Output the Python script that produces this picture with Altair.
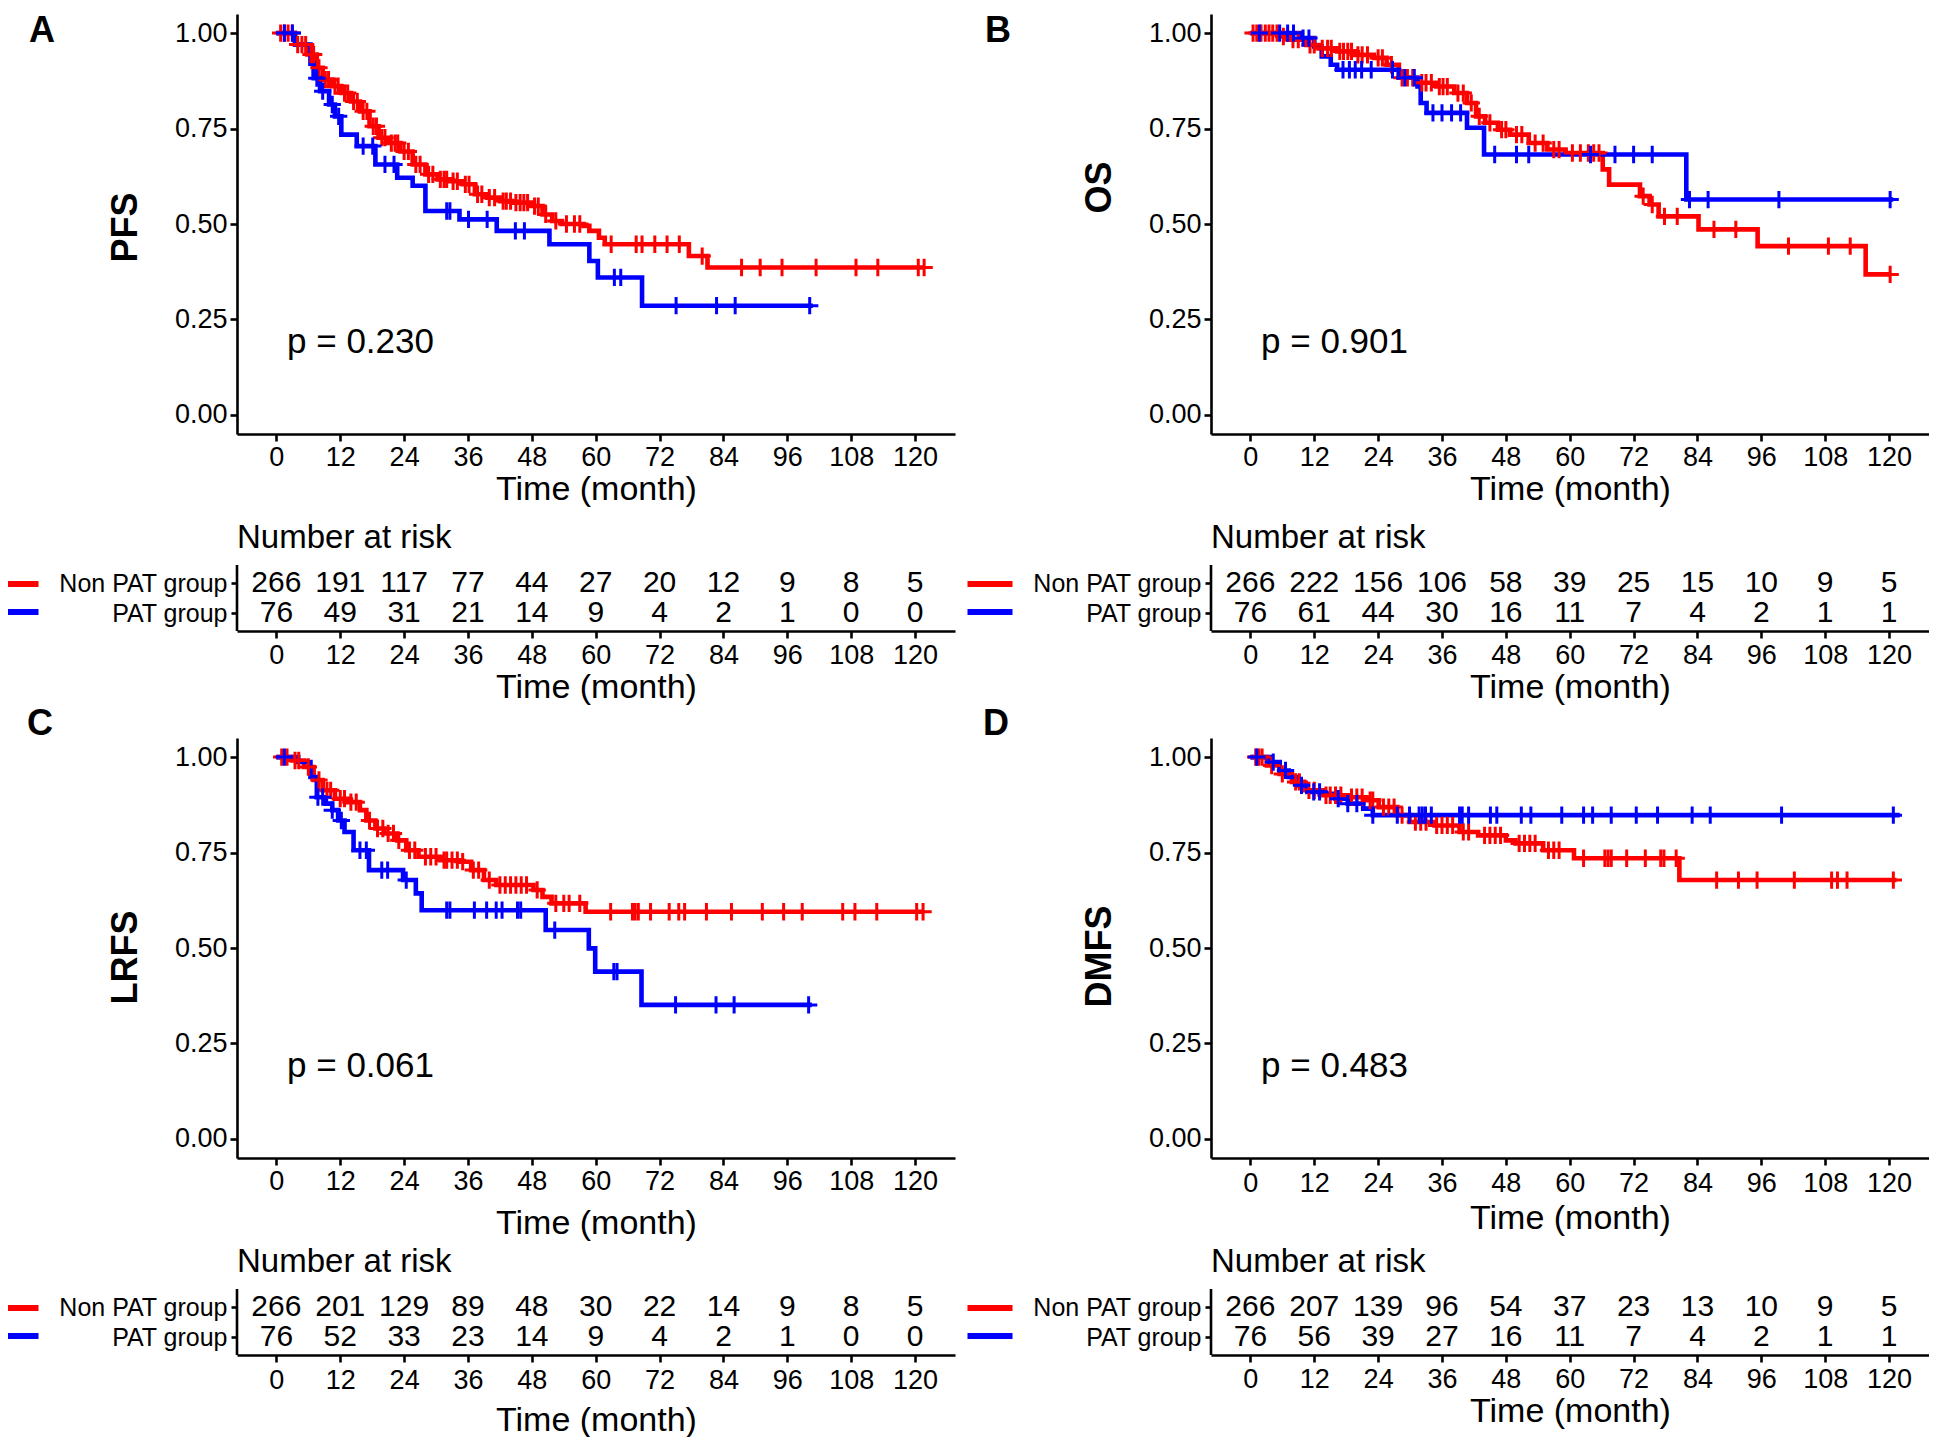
import altair as alt
import numpy as np
import pandas as pd

GROUPS = ["Non PAT group", "PAT group"]
COLORS = ["#FF0000", "#0000FF"]
TIME_BREAKS = [0, 12, 24, 36, 48, 60, 72, 84, 96, 108, 120]
SURV_BREAKS = [0.0, 0.25, 0.5, 0.75, 1.0]

# ---------------- Panel A : PFS ----------------
A_NON_T = [0, 3.5, 5.8, 7.6, 8.7, 10.5, 12.2, 14.0, 15.7, 17.5, 19.2, 21.0, 23.3, 25.6, 28.0, 30.3, 32.6, 35.0,
           37.3, 39.6, 42.0, 44.3, 47.8, 50.0, 51.8, 53.6, 57.7, 58.8, 60.6, 61.7, 77.5, 81.0, 121.7]
A_NON_S = [1.0, 0.97, 0.944, 0.909, 0.878, 0.861, 0.843, 0.821, 0.795, 0.756, 0.726, 0.712, 0.69, 0.656, 0.63,
           0.617, 0.612, 0.604, 0.578, 0.569, 0.56, 0.556, 0.547, 0.525, 0.508, 0.5, 0.495, 0.482, 0.464, 0.447,
           0.416, 0.386, 0.386]
A_NON_C = [0.8, 1.5, 2.2, 3, 4, 4.8, 5.5, 6.5, 7, 8, 9.2, 9.8, 11, 11.6, 12.8, 13.4, 14.5, 15.2, 16.3, 17, 18.2,
           18.8, 19.8, 20.4, 21.6, 22.3, 22.8, 24, 24.8, 26.2, 27, 28.6, 29.4, 30.8, 31.5, 32, 33.2, 34, 35.5, 36.2,
           37.8, 38.6, 40, 41, 42.6, 43.2, 44, 45, 45.8, 46.5, 47.2, 48.5, 49.2, 50.6, 52.5, 54.5, 56, 57, 62.9,
           67.6, 68.7, 71.1, 73.4, 75.7, 80.0, 87.4, 90.9, 95, 101.4, 108.9, 113, 120.6, 121.7]
A_PAT_T = [0, 3.5, 6.4, 7.0, 8.2, 9.9, 11.0, 12.2, 15.1, 18.6, 22.7, 25.6, 28.0, 34.4, 41.4, 51.3, 58.8, 60.4,
           68.7, 100.8]
A_PAT_S = [1.0, 0.97, 0.92, 0.882, 0.848, 0.813, 0.782, 0.734, 0.704, 0.656, 0.621, 0.6, 0.534, 0.512, 0.482,
           0.447, 0.403, 0.36, 0.286, 0.286]
A_PAT_C = [1.5, 3, 7.6, 8.7, 10.5, 11.7, 16.3, 18.1, 20.4, 22.1, 32.0, 32.6, 36.1, 39.6, 44.9, 46.6, 63.5, 64.7,
           75.1, 82.7, 86.2, 100.2]
A_RISK_NON = [266, 191, 117, 77, 44, 27, 20, 12, 9, 8, 5]
A_RISK_PAT = [76, 49, 31, 21, 14, 9, 4, 2, 1, 0, 0]

# ---------------- Panel B : OS ----------------
B_NON_T = [0, 5.8, 7.0, 10.5, 12.8, 16.3, 19.7, 23.2, 25.6, 27.9, 31.4, 34.9, 38.3, 40.7, 42.4, 44.1, 46.5, 48.8,
           52.3, 55.8, 59.2, 66.2, 67.4, 73.2, 75.0, 76.7, 84.2, 95.3, 115.6, 120.2]
B_NON_S = [1.0, 0.991, 0.983, 0.969, 0.96, 0.952, 0.943, 0.935, 0.917, 0.883, 0.87, 0.86, 0.843, 0.817, 0.782,
           0.765, 0.747, 0.734, 0.712, 0.695, 0.686, 0.643, 0.603, 0.573, 0.551, 0.52, 0.486, 0.442, 0.368, 0.368]
B_NON_C = [0.5, 1.2, 2, 2.8, 3.5, 4.2, 5, 6.2, 8, 9, 11.2, 12, 13.5, 14.5, 15.2, 16.8, 17.5, 18.3, 19, 20.2, 21,
           22, 24, 24.8, 26.5, 28.5, 29.5, 30.5, 32.2, 33, 34, 35.5, 36.2, 37, 39, 40, 41.5, 43, 45, 47.2, 48, 50,
           51, 53.5, 55, 57, 58, 60.5, 62, 63.5, 64.5, 65.5, 73.8, 75.5, 77.8, 80.2, 87.1, 91.2, 101.1, 108.6,
           112.7, 120.2]
B_PAT_T = [0, 9.3, 12.0, 13.4, 15.1, 16.3, 27.9, 31.4, 32.0, 33.1, 40.7, 43.9, 81.9, 120.8]
B_PAT_S = [1.0, 0.987, 0.965, 0.939, 0.917, 0.904, 0.883, 0.86, 0.817, 0.791, 0.752, 0.682, 0.564, 0.564]
B_PAT_C = [1.7, 5.5, 7.0, 8.1, 9.9, 11.0, 17.4, 18.6, 19.7, 20.9, 22.7, 26.7, 29.0, 30.8, 34.3, 36.0, 37.8, 39.5,
           45.9, 50.0, 52.3, 63.9, 68.5, 72.0, 75.5, 82.5, 86.0, 99.3, 120.2]
B_RISK_NON = [266, 222, 156, 106, 58, 39, 25, 15, 10, 9, 5]
B_RISK_PAT = [76, 61, 44, 30, 16, 11, 7, 4, 2, 1, 1]

# ---------------- Panel C : LRFS ----------------
C_NON_T = [0, 2.9, 5.2, 7.0, 8.7, 11.0, 13.4, 15.7, 16.9, 18.6, 20.3, 22.7, 24.4, 26.7, 30.8, 34.3, 36.6, 39.0,
           41.3, 48.3, 50.0, 51.7, 58.1, 121.5]
C_NON_S = [1.0, 0.991, 0.974, 0.94, 0.913, 0.891, 0.882, 0.861, 0.834, 0.813, 0.8, 0.782, 0.756, 0.739, 0.73,
           0.726, 0.704, 0.678, 0.665, 0.652, 0.634, 0.617, 0.595, 0.595]
C_NON_C = [1, 2, 3.5, 4.2, 6, 8, 9.5, 10.2, 12, 12.8, 14, 15, 17.5, 19, 20, 21, 22, 23, 25, 26, 28, 29, 30, 31.5,
           32, 33, 34, 35, 37, 38, 40, 42, 43, 44, 45, 46, 47, 49, 52.5, 54, 55, 57, 62.8, 66.9, 67.4, 68.0, 70.3,
           73.8, 75.6, 76.7, 80.8, 85.5, 91.3, 95.3, 98.8, 106.4, 108.7, 112.8, 120.3, 121.5]
C_PAT_T = [0, 4.1, 6.4, 7.6, 9.3, 10.5, 11.6, 12.8, 14.5, 17.4, 23.8, 26.2, 27.3, 50.6, 58.7, 59.9, 68.6, 100.6]
C_PAT_S = [1.0, 0.987, 0.948, 0.895, 0.878, 0.861, 0.834, 0.804, 0.756, 0.704, 0.678, 0.643, 0.599, 0.547, 0.499,
           0.438, 0.351, 0.351]
C_PAT_C = [1.5, 7.8, 8.7, 10.5, 12.2, 15.7, 16.9, 19.8, 20.9, 24.4, 32.0, 32.6, 37.2, 39.5, 41.3, 42.4, 45.3,
           45.9, 52.3, 63.4, 64.0, 75.0, 82.6, 86.0, 100.0]
C_RISK_NON = [266, 201, 129, 89, 48, 30, 22, 14, 9, 8, 5]
C_RISK_PAT = [76, 52, 33, 23, 14, 9, 4, 2, 1, 0, 0]

# ---------------- Panel D : DMFS ----------------
D_NON_T = [0, 3.1, 5.5, 7.8, 10.1, 13.6, 18.3, 21.8, 24.1, 27.6, 29.9, 34.6, 39.3, 42.8, 48.0, 49.8, 55.0, 60.8,
           80.6, 121.4]
D_NON_S = [1.0, 0.978, 0.956, 0.935, 0.913, 0.9, 0.895, 0.887, 0.869, 0.848, 0.83, 0.821, 0.804, 0.795, 0.782,
           0.774, 0.756, 0.735, 0.678, 0.678]
D_NON_C = [1, 1.6, 2.2, 4, 6, 8.5, 9.2, 11, 12, 14.2, 15, 16, 17, 19, 20, 21, 22.5, 23, 25, 26, 27, 28.5, 31, 32,
           33, 35, 36, 37, 38, 40, 41, 44, 45, 46, 47, 50.5, 51.5, 52.5, 53.5, 56, 57, 58, 62.6, 66.6, 67.2, 67.8,
           70.7, 74.2, 77.1, 77.7, 80.0, 87.6, 91.7, 95.2, 102.2, 109.2, 110.3, 112.1, 120.8]
D_PAT_T = [0, 3.7, 5.5, 7.2, 9.0, 10.7, 13.6, 16.0, 18.3, 21.2, 23.0, 122.0]
D_PAT_S = [1.0, 0.987, 0.965, 0.948, 0.926, 0.909, 0.904, 0.891, 0.878, 0.865, 0.848, 0.848]
D_PAT_C = [1.2, 4.3, 6.6, 9.6, 11.9, 13.0, 16.5, 18.3, 20.0, 23.0, 27.6, 29.9, 31.7, 32.3, 32.9, 34.0, 39.3, 39.8,
           41.0, 45.1, 46.3, 50.9, 52.7, 58.5, 62.6, 64.3, 67.8, 72.5, 76.5, 83.0, 86.4, 99.8, 120.8]
D_RISK_NON = [266, 207, 139, 96, 54, 37, 23, 13, 10, 9, 5]
D_RISK_PAT = [76, 56, 39, 27, 16, 11, 7, 4, 2, 1, 1]

P_VALUES = {"A": "p = 0.230", "B": "p = 0.901", "C": "p = 0.061", "D": "p = 0.483"}
Y_LABELS = {"A": "PFS", "B": "OS", "C": "LRFS", "D": "DMFS"}

# ---------------- styling / layout ----------------
FONT = "Liberation Sans"
W = 718
H_KM = 420
H_TAB = 90
X_DOMAIN = [-7.4, 127.5]
AX = dict(grid=False, labelColor="black", tickColor="black", domainColor="black",
          tickWidth=2.6, domainWidth=2.6, titleColor="black")


def step_value(T, S, t):
    i = int(np.searchsorted(np.asarray(T), t, side="right")) - 1
    return float(S[max(i, 0)])


def km_frames(curves):
    rl, rc = [], []
    for g, (T, S, C) in zip(GROUPS, curves):
        for k, (t, s) in enumerate(zip(T, S)):
            rl.append({"group": g, "time": t, "surv": s, "ord": k})
        for t in C:
            rc.append({"group": g, "time": t, "surv": step_value(T, S, t)})
    return pd.DataFrame(rl), pd.DataFrame(rc)


def x_axis(title_y, pad):
    return alt.Axis(values=TIME_BREAKS, title="Time (month)", labelFontSize=27, labelPadding=pad,
                    labelFlush=False, labelOverlap=False, tickSize=7, titleFontSize=34,
                    titleFontWeight="normal", titleY=title_y, titleBaseline="alphabetic", **AX)


def color_enc(legend):
    return alt.Color("group:N", scale=alt.Scale(domain=GROUPS, range=COLORS), legend=legend)


def km_view(key, curves, letter_dx, letter_dy, ytitle_y, xtitle_y, xpad):
    line_df, cens_df = km_frames(curves)
    X = alt.X("time:Q", scale=alt.Scale(domain=X_DOMAIN, nice=False, zero=False), axis=x_axis(xtitle_y, xpad))
    Y = alt.Y("surv:Q", scale=alt.Scale(domain=[-0.05, 1.05], nice=False, zero=False),
              axis=alt.Axis(values=SURV_BREAKS, format=".2f", labelFontSize=27, labelPadding=3, tickSize=7,
                            title=Y_LABELS[key], titleFontSize=36, titleFontWeight="bold", titleX=-112,
                            titleY=ytitle_y, titleBaseline="middle", **AX))
    lines = alt.Chart(line_df).mark_line(interpolate="step-after", strokeWidth=4.6).encode(
        X, Y, color_enc(None), order=alt.Order("ord:Q"))
    cens = alt.Chart(cens_df).mark_point(shape="M-1,0L1,0M0,-1L0,1", size=300, filled=False,
                                         strokeWidth=3, opacity=1).encode(X, Y, color_enc(None))
    ptxt = alt.Chart(pd.DataFrame({"time": [2.0], "surv": [0.19], "label": [P_VALUES[key]]})).mark_text(
        align="left", baseline="middle", fontSize=35, color="black").encode(X, Y, text="label:N")
    letter = alt.Chart(pd.DataFrame({"label": [key]})).mark_text(
        align="left", baseline="alphabetic", fontSize=36, fontWeight="bold", color="black").encode(
        text="label:N", x=alt.value(letter_dx), y=alt.value(letter_dy))
    return alt.layer(lines, cens, ptxt, letter).properties(width=W, height=H_KM)


def table_view(non, pat, xtitle_y, xpad):
    df = pd.DataFrame({"time": TIME_BREAKS * 2, "row": [2] * 11 + [1] * 11, "n": non + pat,
                       "group": [GROUPS[0]] * 11 + [GROUPS[1]] * 11})
    X = alt.X("time:Q", scale=alt.Scale(domain=X_DOMAIN, nice=False, zero=False), axis=x_axis(xtitle_y, xpad))
    Y = alt.Y("row:Q", scale=alt.Scale(domain=[0.4, 3.4], nice=False, zero=False),
              axis=alt.Axis(values=[1, 2], labelExpr="datum.value == 2 ? 'Non PAT group' : 'PAT group'",
                            title=None, domain=False, labelFontSize=25, labelPadding=4, tickSize=6, **AX))
    yline = alt.Chart(pd.DataFrame({"row": [0.4], "row_end": [2.6]})).mark_rule(
        color="black", strokeWidth=2.6).encode(x=alt.value(0), y=Y, y2=alt.Y2("row_end"))
    legend = alt.Legend(orient="none", legendX=-229, legendY=35, title=None, symbolType="M-4.5,0L4.5,0",
                        symbolSize=100, symbolStrokeWidth=6, symbolOpacity=1, labelExpr="''",
                        labelFontSize=10, rowPadding=4, padding=0)
    keys = alt.Chart(df).mark_rule().encode(X, alt.X2("time"), Y, color_enc(legend))
    nums = alt.Chart(df).mark_text(fontSize=30, baseline="middle", color="black").encode(X, Y, text="n:Q")
    hdr = alt.Chart(pd.DataFrame({"label": ["Number at risk"]})).mark_text(
        align="left", baseline="middle", fontSize=33, color="black").encode(
        text="label:N", x=alt.value(0), y=alt.value(-3))
    return alt.layer(yline, keys, nums, hdr).properties(width=W, height=H_TAB)


a_km = km_view("A", [(A_NON_T, A_NON_S, A_NON_C), (A_PAT_T, A_PAT_S, A_PAT_C)], -208, 28, 213, 65, 3)
b_km = km_view("B", [(B_NON_T, B_NON_S, B_NON_C), (B_PAT_T, B_PAT_S, B_PAT_C)], -226, 28, 173, 65, 3)
c_km = km_view("C", [(C_NON_T, C_NON_S, C_NON_C), (C_PAT_T, C_PAT_S, C_PAT_C)], -210, -3, 219, 75, 3)
d_km = km_view("D", [(D_NON_T, D_NON_S, D_NON_C), (D_PAT_T, D_PAT_S, D_PAT_C)], -228, -3, 218, 70, 5)
a_tab = table_view(A_RISK_NON, A_RISK_PAT, 66, 4)
b_tab = table_view(B_RISK_NON, B_RISK_PAT, 66, 4)
c_tab = table_view(C_RISK_NON, C_RISK_PAT, 75, 5)
d_tab = table_view(D_RISK_NON, D_RISK_PAT, 66, 4)

chart = alt.concat(a_km, b_km, a_tab, b_tab, c_km, d_km, c_tab, d_tab, columns=2,
                   spacing={"row": 107, "column": 256}, bounds="flush").resolve_scale(
    color="independent").resolve_legend(color="independent").properties(
    padding={"top": 5, "left": 0, "right": 0, "bottom": 0}).configure(
    font=FONT).configure_view(strokeWidth=0)

chart.save("out.html", embed_options={"renderer": "svg", "actions": False})
